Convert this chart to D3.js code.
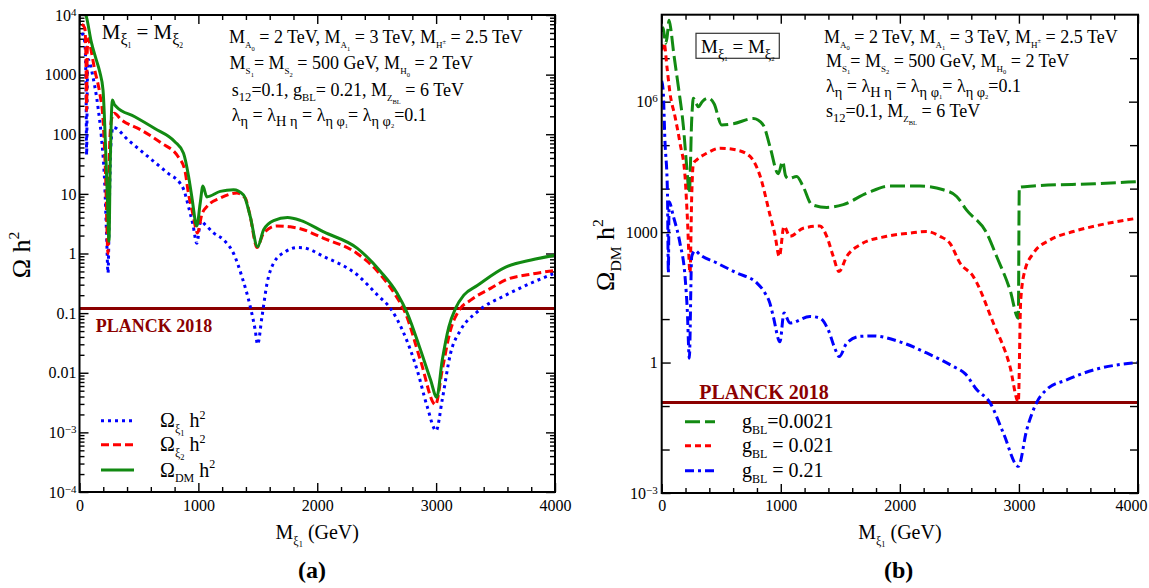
<!DOCTYPE html>
<html>
<head>
<meta charset="utf-8">
<title>Relic density vs dark matter mass</title>
<script src="https://cdn.jsdelivr.net/npm/d3@7"></script>
<style>
  body { margin: 0; background: #fff; }
  svg text { font-family: "Liberation Serif", "DejaVu Serif", serif; white-space: pre; }
</style>
</head>
<body>
<svg id="chart" width="1149" height="588"></svg>
<script>
// ---- panel (a): M_xi1 (GeV) vs Omega h^2 ----
const aXi1 = [[20, 5000], [45, 3500], [55, 600], [60, 45], [65, 600], [72, 1800], [114, 900], [156, 280],
  [184, 91], [212, 15], [228, 2], [240, 0.47], [252, 8], [263, 60], [282, 131], [409, 80], [577, 42],
  [746, 22], [847, 15], [875, 12], [917, 6.1], [955, 3], [987, 1.48], [1020, 3.5], [1060, 3.0],
  [1130, 2.2], [1212, 1.7], [1296, 1.0], [1366, 0.41], [1436, 0.13], [1478, 0.052], [1498, 0.03],
  [1535, 0.087], [1577, 0.31], [1633, 0.69], [1731, 1.07], [1830, 1.26], [1880, 1.25], [2054, 0.89],
  [2335, 0.44], [2508, 0.2], [2616, 0.12], [2728, 0.046], [2841, 0.011], [2925, 0.0027], [3000, 0.00107],
  [3051, 0.0035], [3121, 0.021], [3206, 0.052], [3346, 0.105], [3585, 0.2], [3800, 0.32], [4000, 0.47]];
const aXi2 = [[20, 7000], [45, 6000], [55, 1500], [60, 250], [65, 2500], [75, 4000], [86, 3300], [128, 1200],
  [170, 490], [198, 175], [218, 25], [240, 1.0], [254, 71], [270, 180], [291, 225], [352, 175], [521, 117],
  [689, 71], [830, 42], [886, 25], [917, 10], [955, 4.5], [992, 2.2], [1029, 4.5], [1071, 6.1], [1184, 8.5],
  [1324, 10.3], [1394, 8.5], [1436, 4.2], [1493, 1.26], [1549, 2.2], [1661, 2.9], [1773, 2.8], [1858, 2.6],
  [2054, 1.8], [2335, 1.0], [2508, 0.5], [2648, 0.215], [2742, 0.1], [2869, 0.016], [2995, 0.0029],
  [3051, 0.011], [3121, 0.052], [3191, 0.11], [3290, 0.165], [3458, 0.26], [3585, 0.36], [3800, 0.45], [4000, 0.52]];
const aDM = [[35, 12000], [57, 9500], [99, 3550], [140, 1800], [170, 1120], [198, 550], [218, 71], [235, 8],
  [248, 1.6], [258, 30], [268, 200], [277, 374], [292, 320], [310, 290], [465, 197], [633, 125], [802, 75],
  [875, 48], [917, 20], [945, 8.9], [987, 2.9], [1015, 6.9], [1038, 13.5], [1071, 8.9], [1184, 11], [1296, 11.7],
  [1380, 9.6], [1436, 4.2], [1498, 1.3], [1549, 2.5], [1633, 3.55], [1750, 4.0], [1858, 3.6], [2054, 2.3],
  [2335, 1.23], [2532, 0.5], [2672, 0.215], [2757, 0.1], [2869, 0.024], [2953, 0.0076], [3005, 0.0039],
  [3051, 0.016], [3107, 0.059], [3163, 0.12], [3233, 0.2], [3346, 0.29], [3585, 0.59], [3800, 0.78], [4000, 0.94]];

// ---- panel (b): Omega_DM h^2 for three g_BL values ----
const bG0021 = [[0, 4e7], [12, 5e7], [33, 2.2e7], [45, 3e7], [62, 7.5e7], [80, 4e7], [98, 1.5e7], [140, 2.2e6],
  [182, 2.7e5], [210, 3.2e4], [232, 7800], [252, 3.8e5], [266, 1.2e6], [290, 9e5], [308, 7.6e5], [340, 1e6],
  [392, 1.2e6], [440, 9e5], [504, 2.9e5], [602, 3.1e5], [769, 4.1e5], [853, 2.9e5], [909, 9.3e4], [979, 2.2e4],
  [1016, 4.2e4], [1040, 2e4], [1063, 1.7e4], [1134, 1.9e4], [1189, 1.1e4], [1260, 4300], [1386, 3700],
  [1525, 4300], [1722, 7800], [1917, 1.15e4], [2169, 1.15e4], [2365, 9400], [2477, 6600], [2561, 3200],
  [2729, 950], [2813, 275], [2925, 47], [2995, 10.5], [3003, 1.07e4], [3121, 1.15e4], [3638, 1.3e4], [4000, 1.45e4]];
const bG021 = [[0, 1.5e7], [20, 2.2e7], [45, 6e6], [70, 1.55e6], [112, 4.5e5], [154, 1.1e5], [196, 1.9e4],
  [215, 2300], [238, 115], [252, 6600], [266, 3.8e4], [294, 4.6e4], [378, 6.5e4], [490, 8.5e4], [630, 7.7e4],
  [742, 5.5e4], [825, 2e4], [909, 2500], [950, 900], [988, 275], [1027, 1350], [1077, 800], [1189, 1230],
  [1329, 1380], [1386, 800], [1441, 275], [1489, 124], [1554, 275], [1665, 510], [1889, 800], [2085, 950],
  [2225, 1030], [2337, 800], [2421, 550], [2505, 195], [2617, 95], [2785, 8.1], [2925, 0.81], [2995, 0.126],
  [3015, 27], [3051, 134], [3121, 325], [3261, 660], [3457, 1030], [3638, 1380], [4000, 2100]];
const bG21 = [[0, 3e6], [12, 1.9e6], [27, 1.3e5], [48, 9000], [56, 115], [62, 5000], [98, 2300], [154, 550],
  [196, 95], [215, 16], [232, 1.26], [252, 275], [280, 375], [322, 300], [462, 195], [630, 115], [798, 68],
  [867, 40], [909, 23], [937, 11.5], [993, 3.0], [1027, 13.8], [1077, 8.1], [1245, 11.5], [1329, 10.5],
  [1399, 5.6], [1455, 2.1], [1491, 1.37], [1554, 2.8], [1665, 4.0], [1777, 4.1], [2001, 3.0], [2225, 1.66],
  [2449, 0.81], [2550, 0.55], [2645, 0.24], [2757, 0.12], [2869, 0.024], [2995, 0.0041], [3065, 0.028],
  [3149, 0.12], [3233, 0.24], [3401, 0.4], [3638, 0.69], [4000, 1.0]];

const planck = 0.12;

// ticks
const xMajor = [0, 1000, 2000, 3000, 4000];
const xMinor = [200, 400, 600, 800, 1200, 1400, 1600, 1800, 2200, 2400, 2600, 2800, 3200, 3400, 3600, 3800];
const aYMajor = [1e-4, 1e-3, 0.01, 0.1, 1, 10, 100, 1000, 1e4];
const aYLabels = ["10^\u22124", "10^\u22123", "0.01", "0.1", "1", "10", "100", "1000", "10^4"];
const bYMajor = [1e-3, 1, 1e3, 1e6];
const bYLabels = ["10^\u22123", "1", "1000", "10^6"];
const bYDecades = [1e-2, 1e-1, 10, 100, 1e4, 1e5, 1e7];

const svg = d3.select("#chart");

// rich text: segments are strings or [text, level, sizeFactor]
const OFF = {n: 0, sub: 0.28, ss: 0.42, sp: -0.42, subsup: 0.02};
const FAC = {n: 1, sub: 0.6, ss: 0.42, sp: 0.6, subsup: 0.45};
function rich(parent, x, y, segs, size, anchor) {
  const t = parent.append("text").attr("x", x).attr("y", y)
    .attr("text-anchor", anchor || "start").style("font-size", size + "px");
  let cur = 0;
  segs.forEach(s => {
    if (typeof s === "string") s = [s, "n"];
    const off = OFF[s[1]] * size;
    t.append("tspan").attr("dy", (off - cur).toFixed(2))
      .style("font-size", ((s[2] || FAC[s[1]]) * size).toFixed(1) + "px").text(s[0]);
    cur = off;
  });
  return t;
}

function supLabels(sel, labels) {
  sel.selectAll(".tick text").each(function(d, i) {
    const parts = labels[i].split("^");
    const t = d3.select(this).text(null);
    t.append("tspan").text(parts[0]);
    if (parts[1]) t.append("tspan").attr("dy", "-0.45em").style("font-size", "11px").text(parts[1]);
  });
}

function panel(cfg) {
  const x = d3.scaleLinear().domain([0, 4000]).range([cfg.left, cfg.right]);
  const y = d3.scaleLog().domain(cfg.yDomain).range([cfg.bottom, cfg.top]);
  const g = svg.append("g");

  g.append("clipPath").attr("id", cfg.id).append("rect")
    .attr("x", cfg.left).attr("y", cfg.top)
    .attr("width", cfg.right - cfg.left).attr("height", cfg.bottom - cfg.top);

  const styleAxis = a => {
    a.select(".domain").remove();
    a.attr("font-size", 16).attr("fill", "#000");
    a.selectAll("line").attr("stroke-width", 1.4);
  };

  // x axes (bottom labelled, top mirrored)
  g.append("g").attr("transform", `translate(0,${cfg.bottom})`)
    .call(d3.axisBottom(x).tickValues(xMajor).tickSizeInner(-9).tickSizeOuter(0).tickPadding(cfg.xPad).tickFormat(d3.format("d")))
    .call(styleAxis)
    .call(a => a.selectAll(".tick text").filter(d => d === 4000).attr("dx", cfg.lastDx));
  g.append("g").attr("transform", `translate(0,${cfg.bottom})`)
    .call(d3.axisBottom(x).tickValues(xMinor).tickSizeInner(-5).tickSizeOuter(0).tickFormat(""))
    .call(styleAxis);
  g.append("g").attr("transform", `translate(0,${cfg.top})`)
    .call(d3.axisTop(x).tickValues(xMajor).tickSizeInner(-9).tickSizeOuter(0).tickFormat(""))
    .call(styleAxis);
  g.append("g").attr("transform", `translate(0,${cfg.top})`)
    .call(d3.axisTop(x).tickValues(xMinor).tickSizeInner(-5).tickSizeOuter(0).tickFormat(""))
    .call(styleAxis);

  // y axes
  g.append("g").attr("transform", `translate(${cfg.left},0)`)
    .call(d3.axisLeft(y).tickValues(cfg.yMajor).tickSizeInner(-9).tickSizeOuter(0).tickPadding(cfg.yPad))
    .call(styleAxis)
    .call(a => supLabels(a, cfg.yLabels));
  g.append("g").attr("transform", `translate(${cfg.right},0)`)
    .call(d3.axisRight(y).tickValues(cfg.yMajor).tickSizeInner(-9).tickSizeOuter(0).tickFormat(""))
    .call(styleAxis);
  [d3.axisLeft, d3.axisRight].forEach((ax, k) => {
    g.append("g").attr("transform", `translate(${k ? cfg.right : cfg.left},0)`)
      .call(ax(y).tickValues(cfg.yMinor).tickSizeInner(-cfg.minorLen).tickSizeOuter(0).tickFormat(""))
      .call(styleAxis);
  });

  // planck line
  g.append("path").datum([[0, planck], [4000, planck]])
    .attr("d", d3.line().x(d => x(d[0])).y(d => y(d[1])))
    .attr("stroke", "#8b0000").attr("stroke-width", 3).attr("fill", "none");

  // curves
  const line = d3.line().x(d => x(d[0])).y(d => y(d[1])).curve(d3.curveMonotoneX);
  const plot = g.append("g").attr("clip-path", `url(#${cfg.id})`);
  cfg.series.forEach(s => {
    plot.append("path").datum(s.data).attr("d", line)
      .attr("fill", "none").attr("stroke", s.color).attr("stroke-width", 3)
      .attr("stroke-dasharray", s.dash).attr("stroke-linejoin", "round");
  });

  // frame
  g.append("rect").attr("x", cfg.left).attr("y", cfg.top)
    .attr("width", cfg.right - cfg.left).attr("height", cfg.bottom - cfg.top)
    .attr("fill", "none").attr("stroke", "#000").attr("stroke-width", 2);

  // legend
  cfg.series.forEach((s, i) => {
    g.append("line").attr("x1", cfg.legX[0]).attr("x2", cfg.legX[1])
      .attr("y1", cfg.legY[i]).attr("y2", cfg.legY[i])
      .attr("stroke", s.color).attr("stroke-width", 3).attr("stroke-dasharray", s.dash);
    rich(g, cfg.legTextX, cfg.legY[i] + 6.5, s.label, 20);
  });

  // axis titles
  rich(g, (cfg.left + cfg.right) / 2, 539, ["M", ["\u03be", "sub", 0.6], ["1", "ss"], " (GeV)"], 20, "middle");
  const yl = rich(g, 0, 0, cfg.yTitle, 26, "middle");
  yl.attr("transform", `translate(${cfg.yTitleX},255) rotate(-90)`);
  g.append("text").attr("x", cfg.capX).attr("y", 578).attr("text-anchor", "middle")
    .style("font-size", "24px").style("font-weight", "bold").text(cfg.caption);

  // planck text
  g.append("text").attr("x", cfg.planckX).attr("y", cfg.planckY)
    .style("font-size", cfg.planckSize + "px").style("font-weight", "bold").attr("fill", "#8b0000")
    .text("PLANCK 2018");
  return g;
}

const eqMass = ["M", ["\u03be", "sub", 0.75], ["1", "ss", 0.36], " = M", ["\u03be", "sub", 0.75], ["2", "ss", 0.36]];
const line1 = ["M", ["A", "sub", 0.5], ["0", "ss", 0.36], " = 2 TeV, M", ["A", "sub", 0.5], ["1", "ss", 0.36],
  " = 3 TeV, M", ["H", "sub", 0.5], ["\u00b1", "subsup", 0.36], " = 2.5 TeV"];
const line2 = ["M", ["S", "sub", 0.5], ["1", "ss", 0.36], "= M", ["S", "sub", 0.5], ["2", "ss", 0.36],
  " = 500 GeV, M", ["H", "sub", 0.5], ["0", "ss", 0.36], " = 2 TeV"];
const lamLine = ["\u03bb", ["\u03b7", "sub", 0.8], " = \u03bb", ["H \u03b7", "sub", 0.8], " = \u03bb",
  ["\u03b7 \u03c6", "sub", 0.8], ["1", "ss", 0.36], "= \u03bb", ["\u03b7 \u03c6", "sub", 0.8], ["2", "ss", 0.36], "=0.1"];

const ga = panel({
  id: "clipA", left: 79.5, right: 555, top: 15, bottom: 492, yDomain: [1e-4, 1e4],
  yMajor: aYMajor, yLabels: aYLabels, yMinor: d3.merge(d3.range(-4, 4).map(k => d3.range(2, 10).map(m => m * Math.pow(10, k)))),
  minorLen: 5, xPad: 8, yPad: 3, lastDx: 0,
  series: [
    {data: aXi1, color: "#0000ff", dash: "3,4", label: ["\u03a9", ["\u03be", "sub", 0.6], ["1", "ss"], " h", ["2", "sp"]]},
    {data: aXi2, color: "#ff0000", dash: "8,4", label: ["\u03a9", ["\u03be", "sub", 0.6], ["2", "ss"], " h", ["2", "sp"]]},
    {data: aDM, color: "#128a12", dash: null, label: ["\u03a9", ["DM", "sub"], " h", ["2", "sp"]]}
  ],
  legX: [101, 134], legY: [420.7, 444.7, 470], legTextX: 160,
  yTitle: ["\u03a9 h", ["2", "sp"]], yTitleX: 30, capX: 312, caption: "(a)",
  planckX: 95.7, planckY: 332.3, planckSize: 18
});
rich(ga, 101.7, 39, eqMass, 21);
rich(ga, 229, 43.3, line1, 18);
rich(ga, 229.6, 69.3, line2, 18);
rich(ga, 231.8, 96, ["s", ["12", "sub", 0.7], "=0.1, g", ["BL", "sub"], "= 0.21, M", ["Z", "sub", 0.5], ["BL", "ss", 0.36], " = 6 TeV"], 18);
rich(ga, 231.8, 120.7, lamLine, 18);

const gb = panel({
  id: "clipB", left: 661.7, right: 1138, top: 14.7, bottom: 493, yDomain: [1e-3, 1e8],
  yMajor: bYMajor, yLabels: bYLabels, yMinor: bYDecades,
  minorLen: 8, xPad: 7, yPad: 4, lastDx: -7,
  series: [
    {data: bG0021, color: "#128a12", dash: "15,5", label: ["g", ["BL", "sub"], "=0.0021"]},
    {data: bG021, color: "#ff0000", dash: "6,4", label: ["g", ["BL", "sub"], " = 0.021"]},
    {data: bG21, color: "#0000ff", dash: "9,4,3,4", label: ["g", ["BL", "sub"], " = 0.21"]}
  ],
  legX: [685, 715], legY: [421.7, 445.7, 470.7], legTextX: 742,
  yTitle: ["\u03a9", ["DM", "sub"], " h", ["2", "sp"]], yTitleX: 614, capX: 898.6, caption: "(b)",
  planckX: 699.3, planckY: 399, planckSize: 20
});
gb.append("rect").attr("x", 696).attr("y", 33.3).attr("width", 83.3).attr("height", 25)
  .attr("fill", "#fff").attr("stroke", "#333").attr("stroke-width", 1.2);
rich(gb, 701, 53.3, eqMass, 19);
rich(gb, 824, 42.7, line1, 18);
rich(gb, 826, 66.7, line2, 18);
rich(gb, 826, 91.7, lamLine, 18);
rich(gb, 826, 117.3, ["s", ["12", "sub", 0.7], "=0.1, M", ["Z", "sub", 0.5], ["BL", "ss", 0.36], " = 6 TeV"], 18);
</script>
</body>
</html>
